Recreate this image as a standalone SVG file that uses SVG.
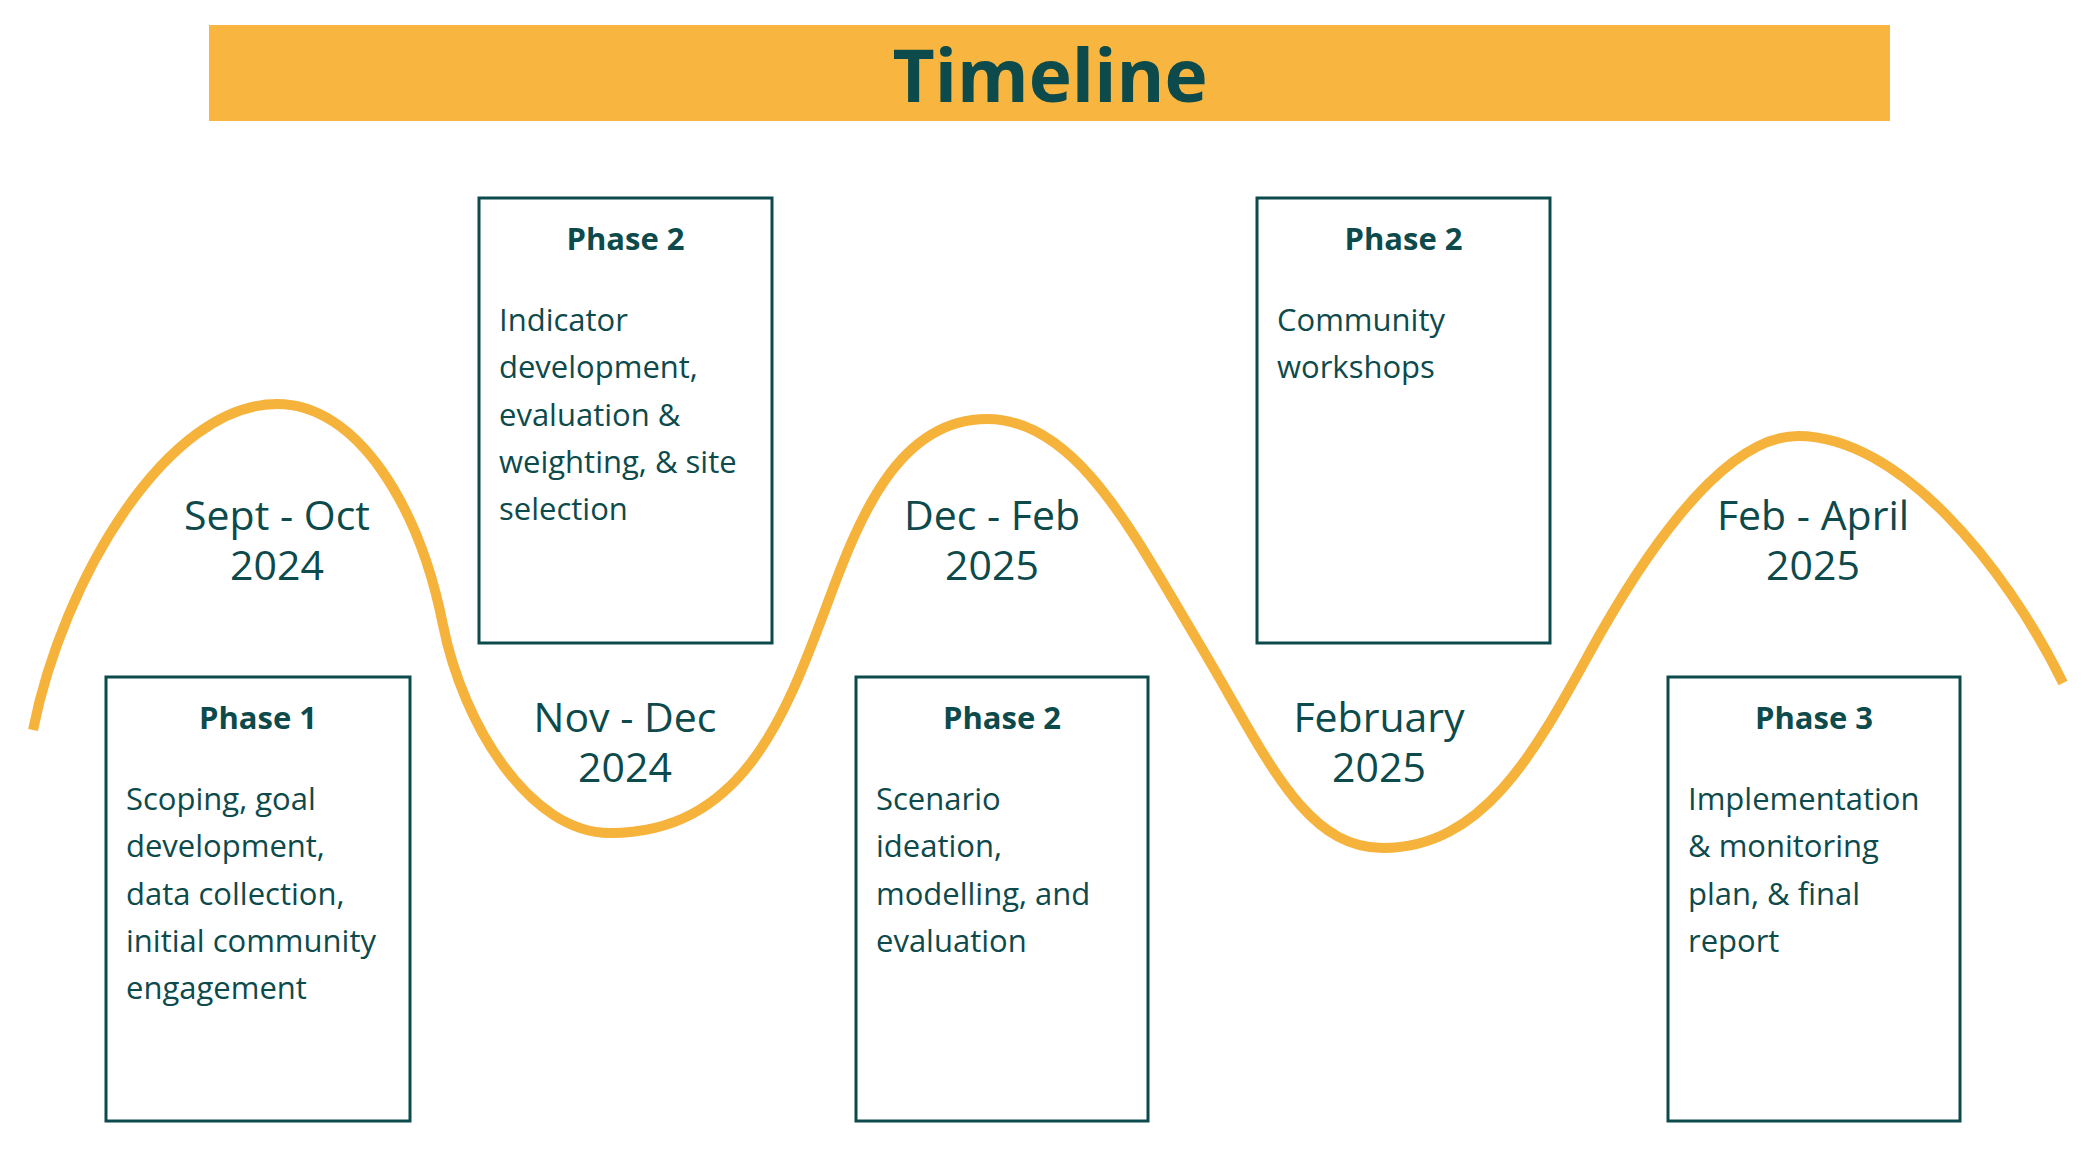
<svg xmlns="http://www.w3.org/2000/svg" width="2100" height="1159" viewBox="0 0 2100 1159">
<style>
.box{fill:#ffffff;stroke:#0d4a4c;stroke-width:3}
.hd{font-family:"Open Sans","Liberation Sans",sans-serif;font-weight:700;font-size:31px;fill:#0d4a4c;text-anchor:middle}
.bd{font-family:"Open Sans","Liberation Sans",sans-serif;font-size:31px;fill:#0d4a4c}
.dt{font-family:"Open Sans","Liberation Sans",sans-serif;font-size:41px;fill:#0d4a4c;text-anchor:middle}
.wave{fill:none;stroke:#f5b33c;stroke-width:10;stroke-linecap:butt;stroke-linejoin:round}
</style>
<rect width="2100" height="1159" fill="#ffffff"/>
<g id="title">
<rect x="209" y="25" width="1681" height="96" fill="#f8b640"/>
<text x="1050" y="102" font-family="'Open Sans','Liberation Sans',sans-serif" font-weight="700" font-size="73" fill="#0d4a4c" text-anchor="middle">Timeline</text>
</g>
<g id="connectors">
<path class="wave" d="M33,730 C63,580 167,404 277,404 C357,404 419,505 443,625 C463,725 530,833 610,833 C740,833 784,720 825,610 C858,520 897,419 987,419 C1077,419 1134,535 1200,645 C1266,755 1303,848 1383,848 C1483,848 1535,752 1590,652 C1634,572 1718,436 1798,436 C1898,436 2004,563 2063,683"/>
</g>
<g id="date-sept-oct"><text class="dt" x="277" y="530">Sept - Oct<tspan x="277" dy="50">2024</tspan></text></g>
<g id="date-nov-dec"><text class="dt" x="625" y="732">Nov - Dec<tspan x="625" dy="50">2024</tspan></text></g>
<g id="date-dec-feb"><text class="dt" x="992" y="530">Dec - Feb<tspan x="992" dy="50">2025</tspan></text></g>
<g id="date-february"><text class="dt" x="1379" y="732">February<tspan x="1379" dy="50">2025</tspan></text></g>
<g id="date-feb-april"><text class="dt" x="1813" y="530">Feb - April<tspan x="1813" dy="50">2025</tspan></text></g>
<g id="phase1">
<rect class="box" x="106" y="677" width="304" height="444"/>
<text class="hd" x="258" y="728.5">Phase 1</text>
<text class="bd" x="126" y="810">Scoping, goal</text>
<text class="bd" x="126" y="857.3">development,</text>
<text class="bd" x="126" y="904.6">data collection,</text>
<text class="bd" x="126" y="951.9">initial community</text>
<text class="bd" x="126" y="999.2">engagement</text>
</g>
<g id="phase2a">
<rect class="box" x="479" y="198" width="293" height="445"/>
<text class="hd" x="625.5" y="249.5">Phase 2</text>
<text class="bd" x="499" y="331">Indicator</text>
<text class="bd" x="499" y="378.3">development,</text>
<text class="bd" x="499" y="425.6">evaluation &amp;</text>
<text class="bd" x="499" y="472.9">weighting, &amp; site</text>
<text class="bd" x="499" y="520.2">selection</text>
</g>
<g id="phase2b">
<rect class="box" x="856" y="677" width="292" height="444"/>
<text class="hd" x="1002" y="728.5">Phase 2</text>
<text class="bd" x="876" y="810">Scenario</text>
<text class="bd" x="876" y="857.3">ideation,</text>
<text class="bd" x="876" y="904.6">modelling, and</text>
<text class="bd" x="876" y="951.9">evaluation</text>
</g>
<g id="phase2c">
<rect class="box" x="1257" y="198" width="293" height="445"/>
<text class="hd" x="1403.5" y="249.5">Phase 2</text>
<text class="bd" x="1277" y="331">Community</text>
<text class="bd" x="1277" y="378.3">workshops</text>
</g>
<g id="phase3">
<rect class="box" x="1668" y="677" width="292" height="444"/>
<text class="hd" x="1814" y="728.5">Phase 3</text>
<text class="bd" x="1688" y="810">Implementation</text>
<text class="bd" x="1688" y="857.3">&amp; monitoring</text>
<text class="bd" x="1688" y="904.6">plan, &amp; final</text>
<text class="bd" x="1688" y="951.9">report</text>
</g>
</svg>
